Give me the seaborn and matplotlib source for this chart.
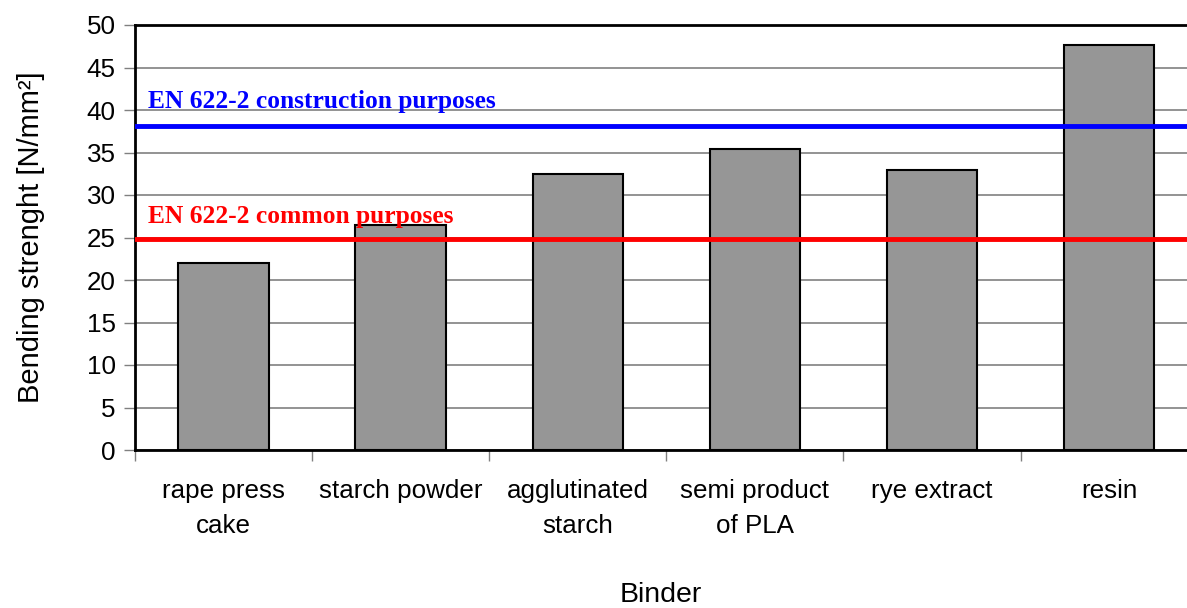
import matplotlib
matplotlib.use("Agg")
import matplotlib.pyplot as plt
import seaborn as sns
import pandas as pd

# data
binders = ["rape press\ncake", "starch powder", "agglutinated\nstarch",
           "semi product\nof PLA", "rye extract", "resin"]
strength = [22.0, 26.5, 32.5, 35.4, 33.0, 47.6]
limit_construction = 38.1
limit_common = 24.8

df = pd.DataFrame({"binder": binders, "strength": strength})

sns.set_theme(style="white")
plt.rcParams["font.family"] = ["Liberation Sans", "DejaVu Sans"]
plt.rcParams["text.color"] = "black"
plt.rcParams["axes.labelcolor"] = "black"
plt.rcParams["xtick.labelcolor"] = "black"
plt.rcParams["ytick.labelcolor"] = "black"

fig = plt.figure(figsize=(11.87, 6.08), dpi=100)
ax = fig.add_axes([135 / 1187, 1 - 450 / 608, (1187 - 135) / 1187, 425 / 608])

sns.barplot(data=df, x="binder", y="strength", ax=ax, color="#969696",
            saturation=1, width=0.51, edgecolor="black", linewidth=1.5)

ax.set_ylim(0, 50)
ax.set_xlim(-0.5, 5.44)
ax.set_yticks(range(0, 51, 5))
ax.yaxis.grid(True, color="#808080", linewidth=1.2)
ax.set_axisbelow(True)

ax.axhline(limit_construction, color="#0000ff", linewidth=3.5, zorder=3)
ax.axhline(limit_common, color="#ff0000", linewidth=3.5, zorder=3)
ax.text(-0.427, 40.2, "EN 622-2 construction purposes", color="#0000ff",
        fontsize=18.4, fontweight="bold", family=["Liberation Serif"], zorder=4)
ax.text(-0.427, 26.7, "EN 622-2 common purposes", color="#ff0000",
        fontsize=18.4, fontweight="bold", family=["Liberation Serif"], zorder=4)

for side in ["left", "bottom", "top"]:
    ax.spines[side].set_color("black")
    ax.spines[side].set_linewidth(2)
ax.spines["right"].set_visible(False)

# category boundaries carry the tick marks, labels sit at the centres
ax.set_xticks([i - 0.5 for i in range(6)], minor=True)
ax.tick_params(axis="x", which="minor", length=8, width=1, color="#808080",
               direction="out", bottom=True)
ax.tick_params(axis="x", which="major", length=0, pad=21, labelsize=18.7)
ax.tick_params(axis="y", length=8, width=1, color="#808080", left=True,
               direction="out", labelsize=18.7, pad=6)
for lab in ax.get_xticklabels():
    lab.set_linespacing(1.55)

ax.set_xlabel("Binder", fontsize=20.5, labelpad=32)
ax.set_ylabel("Bending strenght [N/mm²]", fontsize=21, labelpad=30)

fig.savefig("out.png", dpi=100)
